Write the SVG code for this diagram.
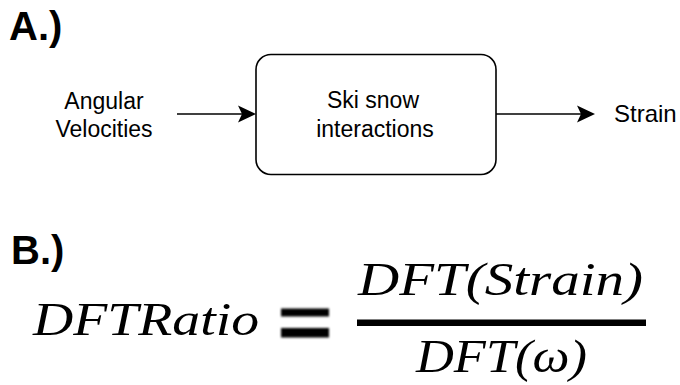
<svg xmlns="http://www.w3.org/2000/svg" width="680" height="385" viewBox="0 0 680 385">
  <style>
    .label { font-family: "Liberation Sans", Arial, sans-serif; font-size: 23px; fill: #000; }
    .head { font-family: "Liberation Sans", Arial, sans-serif; font-size: 40px; font-weight: bold; fill: #000; }
    .math { font-family: "Liberation Serif", "Times New Roman", serif; font-style: italic; font-size: 46px; fill: #000; }
    .edge { stroke: #000; stroke-width: 1.5; fill: none; }
  </style>
  <defs>
    <filter id="soft" x="-10%" y="-50%" width="120%" height="200%">
      <feGaussianBlur stdDeviation="0.8"/>
    </filter>
  </defs>

  <!-- Part A: block diagram -->
  <text class="head" x="9" y="40">A.)</text>

  <g id="input">
    <text class="label" x="104" y="108.5" text-anchor="middle">Angular</text>
    <text class="label" x="104" y="137" text-anchor="middle">Velocities</text>
  </g>

  <g id="system">
    <rect x="256" y="54.5" width="240" height="120" rx="15" ry="15" fill="#fff" stroke="#000" stroke-width="1.6"/>
    <text class="label" x="373" y="108" text-anchor="middle">Ski snow</text>
    <text class="label" x="375" y="137" text-anchor="middle">interactions</text>
  </g>

  <g id="output">
    <text class="label" x="614" y="122" style="font-size:24px">Strain</text>
  </g>

  <g id="connectors">
    <line class="edge" x1="177" y1="114" x2="242" y2="114"/>
    <path d="M256,114 L238,105.5 L242,114 L238,122.5 Z" fill="#000"/>
    <line class="edge" x1="496" y1="114" x2="581" y2="114"/>
    <path d="M595,114 L577,105.5 L581,114 L577,122.5 Z" fill="#000"/>
  </g>

  <!-- Part B: ratio definition -->
  <text class="head" x="11" y="264">B.)</text>

  <g id="equation">
    <text class="math" x="33" y="335" textLength="226" lengthAdjust="spacingAndGlyphs" style="font-size:47px">DFTRatio</text>
    <g filter="url(#soft)">
      <rect x="281" y="308.5" width="48" height="8"/>
      <rect x="281" y="328" width="48" height="9.5"/>
    </g>
    <text class="math" x="358" y="295" textLength="285" lengthAdjust="spacingAndGlyphs">DFT(Strain)</text>
    <rect x="357" y="319.5" width="289" height="6.5"/>
    <text class="math" x="416" y="372" textLength="171" lengthAdjust="spacingAndGlyphs">DFT(ω)</text>
  </g>
</svg>
